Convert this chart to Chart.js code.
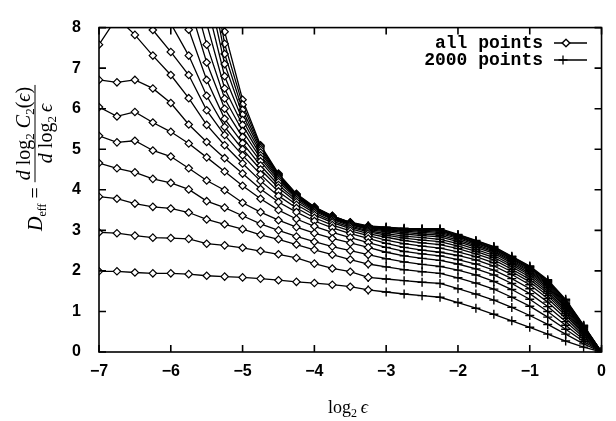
<!DOCTYPE html>
<html lang="en">
<head>
<meta charset="UTF-8">
<title>Effective dimension vs log2 eps</title>
<script src="https://cdn.jsdelivr.net/npm/chart.js@4"></script>
<style>
  html, body { margin: 0; padding: 0; background: #fff; }
  #wrap { width: 616px; height: 421px; position: relative; }
</style>
</head>
<body>
<div id="wrap"><canvas id="chart"></canvas></div>

<script>
// log2 of the length scale
const xAll = [-7, -6.75, -6.5, -6.25, -6, -5.75, -5.5, -5.25, -5, -4.75, -4.5, -4.25, -4, -3.75, -3.5, -3.25];
const x2000 = [-3.25, -3, -2.75, -2.5, -2.25, -2, -1.75, -1.5, -1.25, -1, -0.75, -0.5, -0.25, 0];
const xTicks = [-7, -6, -5, -4, -3, -2, -1, 0];
const yTicks = [0, 1, 2, 3, 4, 5, 6, 7, 8];

// D_eff, all points, one array per embedding dimension (values above 8 run off the top)
const all2  = [1.99, 1.99, 1.96, 1.94, 1.94, 1.92, 1.88, 1.86, 1.84, 1.81, 1.77, 1.73, 1.70, 1.66, 1.61, 1.53];
const all3  = [2.95, 2.93, 2.87, 2.82, 2.81, 2.79, 2.67, 2.63, 2.57, 2.49, 2.41, 2.32, 2.18, 2.06, 1.98, 1.84];
const all4  = [3.83, 3.78, 3.66, 3.58, 3.54, 3.44, 3.27, 3.15, 3.03, 2.89, 2.78, 2.65, 2.52, 2.40, 2.28, 2.17];
const all5  = [4.66, 4.53, 4.43, 4.27, 4.17, 4.01, 3.72, 3.56, 3.36, 3.16, 3.00, 2.85, 2.72, 2.60, 2.50, 2.40];
const all6  = [5.33, 5.17, 5.21, 4.97, 4.82, 4.53, 4.23, 3.99, 3.68, 3.45, 3.25, 3.08, 2.93, 2.80, 2.69, 2.58];
const all7  = [6.04, 5.81, 5.92, 5.66, 5.43, 5.14, 4.80, 4.45, 4.10, 3.78, 3.50, 3.28, 3.10, 2.95, 2.82, 2.70];
const all8  = [6.71, 6.65, 6.71, 6.50, 6.14, 5.61, 5.18, 4.78, 4.40, 4.02, 3.70, 3.45, 3.23, 3.06, 2.92, 2.80];
const all9  = [7.58, 8.25, 7.82, 7.31, 6.83, 6.26, 5.60, 5.10, 4.65, 4.22, 3.85, 3.55, 3.31, 3.13, 2.99, 2.87];
const all10 = [8.70, 9.10, 8.60, 7.94, 7.40, 6.83, 5.96, 5.35, 4.85, 4.38, 3.96, 3.63, 3.38, 3.19, 3.04, 2.92];
const all11 = [9.60, 10.0, 9.50, 8.80, 8.10, 7.31, 6.32, 5.55, 5.00, 4.50, 4.05, 3.70, 3.43, 3.23, 3.08, 2.96];
const all12 = [10.5, 10.9, 10.4, 9.60, 8.80, 7.95, 6.71, 5.75, 5.15, 4.60, 4.12, 3.75, 3.47, 3.27, 3.11, 2.99];
const all13 = [11.4, 11.8, 11.3, 10.4, 9.60, 8.60, 7.14, 6.00, 5.30, 4.70, 4.19, 3.79, 3.50, 3.29, 3.14, 3.02];
const all14 = [12.3, 12.7, 12.2, 11.2, 10.4, 9.20, 7.58, 6.25, 5.45, 4.78, 4.24, 3.82, 3.52, 3.31, 3.15, 3.04];
const all15 = [13.0, 13.5, 13.0, 12.0, 11.2, 9.80, 8.10, 6.50, 5.60, 4.85, 4.28, 3.84, 3.53, 3.32, 3.16, 3.06];
const all16 = [13.8, 14.3, 13.8, 12.8, 12.0, 10.4, 8.60, 6.80, 5.72, 4.92, 4.31, 3.86, 3.54, 3.33, 3.17, 3.07];
const all17 = [14.6, 15.0, 14.6, 13.6, 12.8, 11.0, 9.10, 7.10, 5.85, 4.98, 4.34, 3.87, 3.55, 3.34, 3.18, 3.08];
const all18 = [15.4, 15.8, 15.4, 14.4, 13.6, 11.6, 9.60, 7.35, 5.97, 5.03, 4.36, 3.88, 3.56, 3.35, 3.19, 3.09];
const all19 = [16.2, 16.6, 16.2, 15.2, 14.4, 12.2, 10.1, 7.60, 6.10, 5.07, 4.38, 3.89, 3.57, 3.35, 3.19, 3.10];
const all20 = [17.0, 17.4, 17.0, 16.0, 15.2, 12.8, 10.6, 7.90, 6.22, 5.10, 4.40, 3.90, 3.58, 3.36, 3.20, 3.11];

// D_eff from the first 2000 points only
const p2  = [1.53, 1.48, 1.43, 1.39, 1.35, 1.22, 1.08, 0.93, 0.77, 0.61, 0.44, 0.27, 0.12, 0];
const p3  = [1.84, 1.80, 1.76, 1.72, 1.69, 1.56, 1.43, 1.28, 1.10, 0.90, 0.68, 0.44, 0.20, 0];
const p4  = [2.17, 2.10, 2.03, 1.98, 1.94, 1.83, 1.70, 1.55, 1.35, 1.13, 0.86, 0.56, 0.26, 0];
const p5  = [2.40, 2.30, 2.22, 2.16, 2.11, 2.02, 1.90, 1.74, 1.54, 1.30, 1.00, 0.66, 0.31, 0];
const p6  = [2.58, 2.46, 2.37, 2.31, 2.26, 2.17, 2.05, 1.90, 1.69, 1.44, 1.12, 0.75, 0.36, 0];
const p7  = [2.70, 2.58, 2.48, 2.42, 2.37, 2.28, 2.17, 2.02, 1.81, 1.56, 1.23, 0.83, 0.40, 0];
const p8  = [2.80, 2.68, 2.58, 2.51, 2.46, 2.38, 2.27, 2.12, 1.91, 1.66, 1.32, 0.90, 0.44, 0];
const p9  = [2.87, 2.76, 2.67, 2.61, 2.56, 2.47, 2.35, 2.20, 1.98, 1.73, 1.39, 0.95, 0.47, 0];
const p10 = [2.92, 2.83, 2.75, 2.69, 2.65, 2.55, 2.42, 2.27, 2.04, 1.79, 1.45, 1.00, 0.50, 0];
const p11 = [2.96, 2.88, 2.81, 2.76, 2.72, 2.61, 2.48, 2.33, 2.10, 1.85, 1.50, 1.04, 0.53, 0];
const p12 = [2.99, 2.92, 2.86, 2.82, 2.78, 2.67, 2.53, 2.38, 2.15, 1.90, 1.55, 1.08, 0.55, 0];
const p13 = [3.02, 2.96, 2.91, 2.87, 2.84, 2.72, 2.58, 2.43, 2.19, 1.94, 1.59, 1.11, 0.57, 0];
const p14 = [3.04, 2.99, 2.95, 2.91, 2.88, 2.76, 2.62, 2.47, 2.23, 1.98, 1.63, 1.14, 0.59, 0];
const p15 = [3.06, 3.01, 2.98, 2.95, 2.92, 2.80, 2.65, 2.50, 2.26, 2.01, 1.66, 1.17, 0.60, 0];
const p16 = [3.07, 3.03, 3.00, 2.98, 2.95, 2.83, 2.68, 2.53, 2.29, 2.04, 1.69, 1.20, 0.62, 0];
const p17 = [3.08, 3.05, 3.02, 3.00, 2.98, 2.85, 2.70, 2.55, 2.31, 2.07, 1.72, 1.23, 0.63, 0];
const p18 = [3.09, 3.06, 3.03, 3.02, 3.00, 2.87, 2.72, 2.57, 2.33, 2.09, 1.74, 1.26, 0.64, 0];
const p19 = [3.10, 3.07, 3.04, 3.03, 3.02, 2.89, 2.74, 2.59, 2.35, 2.11, 1.76, 1.28, 0.65, 0];
const p20 = [3.11, 3.08, 3.05, 3.04, 3.04, 2.90, 2.75, 2.60, 2.36, 2.12, 1.78, 1.30, 0.66, 0];

const allSeries = [all2, all3, all4, all5, all6, all7, all8, all9, all10, all11, all12, all13, all14, all15, all16, all17, all18, all19, all20];
const sub2000 = [p2, p3, p4, p5, p6, p7, p8, p9, p10, p11, p12, p13, p14, p15, p16, p17, p18, p19, p20];

const tickFont = { family: "'Liberation Sans', Arial, sans-serif", size: 16, weight: 'bold' };
const fmt = v => (v < 0 ? '\u2212' + Math.abs(v) : String(v));

function toXY(xs, ys) {
  return xs.map((x, i) => ({ x: x, y: ys[i] }));
}

// diamonds first, the 2000-point crosses go on top of them
const datasets = [];
allSeries.forEach((ys, i) => {
  datasets.push({
    label: 'all points m=' + (i + 2),
    data: toXY(xAll, ys),
    borderColor: '#000',
    borderWidth: 1.3,
    pointStyle: 'rectRot',
    pointRadius: 3.7,
    pointBorderWidth: 1.2,
    pointBackgroundColor: '#fff',
    pointBorderColor: '#000'
  });
});
sub2000.forEach((ys, i) => {
  datasets.push({
    label: '2000 points m=' + (i + 2),
    data: toXY(x2000, ys),
    borderColor: '#000',
    borderWidth: 1.3,
    pointStyle: 'cross',
    pointRadius: 4.5,
    pointBorderWidth: 1.4,
    pointBorderColor: '#000'
  });
});

// run a sequence of text pieces left to right: [text, font, dy]
function drawRuns(ctx, runs, x, y) {
  runs.forEach(r => {
    ctx.font = r[1];
    ctx.fillText(r[0], x, y + (r[2] || 0));
    x += ctx.measureText(r[0]).width;
  });
  return x;
}
function runsWidth(ctx, runs) {
  let w = 0;
  runs.forEach(r => { ctx.font = r[1]; w += ctx.measureText(r[0]).width; });
  return w;
}

const SERIF = "'Liberation Serif', 'DejaVu Serif', serif";
const rm = s => s + 'px ' + SERIF;
const it = s => 'italic ' + s + 'px ' + SERIF;

const framePlugin = {
  id: 'gnuframe',
  afterDraw(chart) {
    const { ctx, chartArea: a, scales } = chart;
    const sx = scales.x, sy = scales.y;
    ctx.save();
    ctx.strokeStyle = '#000';
    ctx.fillStyle = '#000';
    ctx.lineWidth = 1.6;
    ctx.strokeRect(a.left, a.top, a.right - a.left, a.bottom - a.top);

    // inward ticks on all four sides
    const tl = 7;
    ctx.beginPath();
    xTicks.forEach(v => {
      const px = sx.getPixelForValue(v);
      ctx.moveTo(px, a.bottom); ctx.lineTo(px, a.bottom - tl);
      ctx.moveTo(px, a.top); ctx.lineTo(px, a.top + tl);
    });
    yTicks.forEach(v => {
      const py = sy.getPixelForValue(v);
      ctx.moveTo(a.left, py); ctx.lineTo(a.left + tl, py);
      ctx.moveTo(a.right, py); ctx.lineTo(a.right - tl, py);
    });
    ctx.stroke();

    // x axis title
    ctx.textBaseline = 'alphabetic';
    ctx.textAlign = 'left';
    const xr = [['log', rm(18)], ['2', rm(12), 4], ['\u2009', rm(18)], ['\u03f5', it(18)]];
    const xw = runsWidth(ctx, xr);
    drawRuns(ctx, xr, 348 - xw / 2, 413);

    // y axis title, rotated: D_eff = d log2 C2(eps) / d log2 eps
    ctx.save();
    ctx.translate(35, 158);
    ctx.rotate(-Math.PI / 2);
    const left = [['D', it(20)], ['eff', rm(12), 4], [' = ', rm(20)]];
    const num = [['d', it(20)], [' log', rm(20)], ['2', rm(13), 4], [' C', it(20)], ['2', rm(13), 4], ['(', rm(20)], ['\u03f5', it(20)], [')', rm(20)]];
    const den = [['d', it(20)], [' log', rm(20)], ['2', rm(13), 4], ['\u2009', rm(20)], ['\u03f5', it(20)]];
    const lw = runsWidth(ctx, left), nw = runsWidth(ctx, num), dw = runsWidth(ctx, den);
    const fw = Math.max(nw, dw) + 4;
    const u0 = -(lw + fw) / 2;
    drawRuns(ctx, left, u0, 7);
    ctx.lineWidth = 1;
    ctx.beginPath();
    ctx.moveTo(u0 + lw, 0); ctx.lineTo(u0 + lw + fw, 0);
    ctx.stroke();
    drawRuns(ctx, num, u0 + lw + (fw - nw) / 2, -5);
    drawRuns(ctx, den, u0 + lw + (fw - dw) / 2, 17);
    ctx.restore();

    // key, top right inside the frame
    ctx.font = "bold 18px 'Liberation Mono', 'DejaVu Sans Mono', monospace";
    ctx.textAlign = 'right';
    ctx.textBaseline = 'middle';
    ctx.fillText('all points', 543, 43);
    ctx.fillText('2000 points', 543, 60);
    ctx.lineWidth = 1.3;
    ctx.beginPath();
    ctx.moveTo(554, 43); ctx.lineTo(587, 43);
    ctx.moveTo(554, 60); ctx.lineTo(587, 60);
    ctx.stroke();
    ctx.fillStyle = '#fff';
    Chart.helpers.drawPoint(ctx, { pointStyle: 'rectRot', radius: 3.7, borderWidth: 1.2 }, 566, 43);
    ctx.fill();
    ctx.stroke();
    Chart.helpers.drawPoint(ctx, { pointStyle: 'cross', radius: 4.5, borderWidth: 1.4 }, 563, 60);
    ctx.restore();
  }
};

new Chart(document.getElementById('chart'), {
  type: 'line',
  data: { datasets: datasets },
  options: {
    responsive: true,
    maintainAspectRatio: false,
    animation: false,
    devicePixelRatio: 1,
    layout: { padding: { top: 14, right: 9, left: 0, bottom: 0 } },
    plugins: { legend: { display: false }, tooltip: { enabled: false } },
    elements: { line: { tension: 0 } },
    scales: {
      x: {
        type: 'linear',
        min: -7,
        max: 0,
        afterFit: s => { s.height = 69; },
        afterBuildTicks: s => { s.ticks = xTicks.map(v => ({ value: v })); },
        grid: { display: false, drawTicks: false },
        border: { display: false },
        ticks: { color: '#000', font: tickFont, padding: 10, maxRotation: 0, autoSkip: false, callback: fmt }
      },
      y: {
        type: 'linear',
        min: 0,
        max: 8,
        afterFit: s => { s.width = 99; },
        afterBuildTicks: s => { s.ticks = yTicks.map(v => ({ value: v })); },
        grid: { display: false, drawTicks: false },
        border: { display: false },
        ticks: { color: '#000', font: tickFont, padding: 18, callback: fmt }
      }
    }
  },
  plugins: [framePlugin]
});
</script>
</body>
</html>
